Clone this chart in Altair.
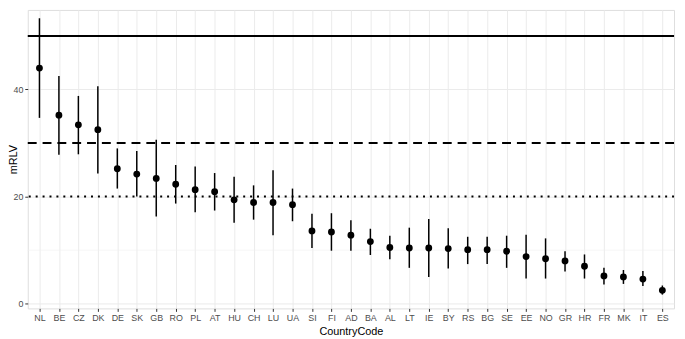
import altair as alt
import pandas as pd

countries = ["NL", "BE", "CZ", "DK", "DE", "SK", "GB", "RO", "PL", "AT", "HU", "CH", "LU", "UA",
             "SI", "FI", "AD", "BA", "AL", "LT", "IE", "BY", "RS", "BG", "SE", "EE", "NO", "GR",
             "HR", "FR", "MK", "IT", "ES"]
mrlv = [44.0, 35.2, 33.4, 32.5, 25.2, 24.2, 23.4, 22.3, 21.3, 20.9, 19.4, 18.9, 18.9, 18.5,
        13.6, 13.4, 12.8, 11.6, 10.5, 10.4, 10.4, 10.3, 10.1, 10.1, 9.8, 8.8, 8.4, 8.0,
        7.0, 5.2, 5.0, 4.6, 2.5]
upper = [53.3, 42.5, 38.8, 40.6, 29.0, 28.5, 30.6, 25.9, 25.6, 24.4, 23.7, 22.1, 24.9, 21.5,
         16.8, 16.9, 15.6, 14.0, 12.7, 14.2, 15.8, 14.1, 12.5, 12.5, 12.7, 12.9, 12.2, 9.8,
         9.2, 6.7, 6.3, 6.1, 3.4]
lower = [34.7, 27.8, 27.9, 24.3, 21.5, 20.0, 16.3, 18.7, 17.1, 17.4, 15.1, 15.7, 12.8, 15.4,
         10.4, 9.9, 9.9, 9.1, 8.3, 6.7, 5.0, 6.6, 7.4, 7.4, 6.7, 4.7, 4.7, 6.0,
         4.7, 3.6, 3.7, 3.3, 1.7]

ref_values = [50, 30, 20]
ref_styles = ["solid", "dashed", "dotted"]
minor_grid = [10]
y_ticks = [0, 20, 40]

df = pd.DataFrame({"CountryCode": countries, "mRLV": mrlv, "upper": upper, "lower": lower})
refs = pd.DataFrame({"v": ref_values, "style": ref_styles})
minor = pd.DataFrame({"v": minor_grid})

x_enc = alt.X("CountryCode:N", sort=countries, title="CountryCode",
              scale=alt.Scale(type="point", padding=0.6),
              axis=alt.Axis(labelAngle=0, labelColor="#4D4D4D", labelFontSize=9,
                            labelFont="Liberation Sans", titleFont="Liberation Sans",
                            titleFontSize=11, titleFontWeight="normal", titleColor="#000000",
                            tickColor="#333333", tickSize=3, labelPadding=2, titlePadding=3,
                            grid=True, gridColor="#EBEBEB", gridWidth=1, domain=False))
y_scale = alt.Scale(domain=[-0.87, 54.85], nice=False, zero=False)
y_axis = alt.Axis(values=y_ticks, labelColor="#4D4D4D", labelFontSize=9,
                  labelFont="Liberation Sans", titleFont="Liberation Sans",
                  titleFontSize=11, titleFontWeight="normal", titleColor="#000000",
                  tickColor="#333333", tickSize=3, labelPadding=2,
                  grid=True, gridColor="#EBEBEB", gridWidth=1, domain=False,
                  titleX=-14, titleBaseline="middle")

minor_layer = alt.Chart(minor).mark_rule(color="#F2F2F2", strokeWidth=0.6).encode(
    y=alt.Y("v:Q", scale=y_scale))

base = alt.Chart(df)
bars = base.mark_rule(color="black", strokeWidth=1.5).encode(
    x=x_enc,
    y=alt.Y("lower:Q", scale=y_scale, axis=y_axis, title="mRLV"),
    y2="upper:Q")
points = base.mark_circle(color="black", size=48, opacity=1).encode(
    x=alt.X("CountryCode:N", sort=countries),
    y=alt.Y("mRLV:Q", scale=y_scale))

solid = alt.Chart(refs[refs["style"] == "solid"]).mark_rule(color="black", strokeWidth=2).encode(
    y=alt.Y("v:Q", scale=y_scale))
dashed = alt.Chart(refs[refs["style"] == "dashed"]).mark_rule(
    color="black", strokeWidth=2, strokeDash=[9, 6]).encode(y=alt.Y("v:Q", scale=y_scale))
dotted = alt.Chart(refs[refs["style"] == "dotted"]).mark_rule(
    color="black", strokeWidth=2, strokeDash=[2, 5]).encode(y=alt.Y("v:Q", scale=y_scale))

chart = alt.layer(minor_layer, bars, points, solid, dashed, dotted).properties(
    width=654, height=302,
    autosize=alt.AutoSizeParams(type="none"),
    padding={"left": 20, "top": 0, "right": 3, "bottom": 29},
).configure_view(stroke="#4D4D4D", strokeWidth=1).configure(background="white")

chart.save("out.html", embed_options={"renderer": "svg", "actions": False})
